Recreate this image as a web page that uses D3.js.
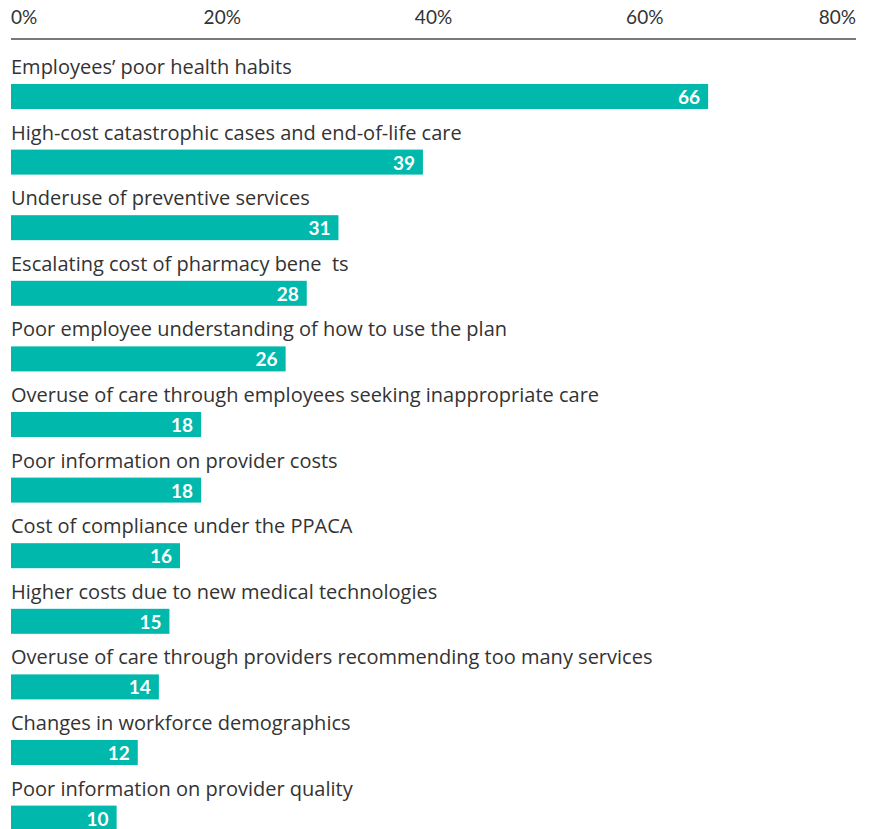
<!DOCTYPE html>
<html>
<head>
<meta charset="utf-8">
<script src="https://cdn.jsdelivr.net/npm/d3@7"></script>
<style>
  html, body { margin: 0; padding: 0; background: #fff; }
  svg { display: block; }
  text { white-space: pre; }
</style>
</head>
<body>
<script>
// Cost drivers, share of respondents (%)
const categories = [
  "Employees\u2019 poor health habits",
  "High-cost catastrophic cases and end-of-life care",
  "Underuse of preventive services",
  "Escalating cost of pharmacy bene  ts",
  "Poor employee understanding of how to use the plan",
  "Overuse of care through employees seeking inappropriate care",
  "Poor information on provider costs",
  "Cost of compliance under the PPACA",
  "Higher costs due to new medical technologies",
  "Overuse of care through providers recommending too many services",
  "Changes in workforce demographics",
  "Poor information on provider quality"
];
const values = [66, 39, 31, 28, 26, 18, 18, 16, 15, 14, 12, 10];
const tickValues = [0, 20, 40, 60, 80];
const tickLabels = ["0%", "20%", "40%", "60%", "80%"];

const W = 874, H = 829;
const svg = d3.select("body").append("svg").attr("width", W).attr("height", H);

const x = d3.scaleLinear().domain([0, 80]).range([11, 856]);
const y = d3.scaleBand().domain(categories).range([84 - 9.5, 84 - 9.5 + 65.6 * 12]).paddingInner(0).paddingOuter(0);
const barH = 25;

// Top axis
const axisG = svg.append("g").attr("transform", "translate(0,39)");
axisG.append("line")
  .attr("x1", x(0)).attr("x2", x(80))
  .attr("stroke", "#4d4d4d").attr("stroke-width", 1.5);
axisG.selectAll("text.tick")
  .data(tickValues)
  .join("text")
  .attr("class", "tick")
  .attr("x", d => x(d))
  .attr("y", -15)
  .attr("text-anchor", (d, i) => i === 0 ? "start" : (i === tickValues.length - 1 ? "end" : "middle"))
  .attr("font-family", "Lato, sans-serif")
  .attr("font-size", 19)
  .attr("fill", "#333")
  .text((d, i) => tickLabels[i]);

// Rows
const rows = svg.selectAll("g.row")
  .data(categories.map((c, i) => ({ c, v: values[i] })))
  .join("g")
  .attr("class", "row")
  .attr("transform", d => `translate(0,${y(d.c) + 9.5})`);

rows.append("text")
  .attr("x", x(0))
  .attr("y", -10)
  .attr("font-family", "'Open Sans', sans-serif")
  .attr("font-size", 20)
  .attr("fill", "#333")
  .text(d => d.c);

rows.append("rect")
  .attr("x", x(0))
  .attr("y", 0)
  .attr("width", d => x(d.v) - x(0))
  .attr("height", barH)
  .attr("fill", "#00b8ab");

rows.append("text")
  .attr("x", d => x(d.v) - 8)
  .attr("y", 20)
  .attr("text-anchor", "end")
  .attr("font-family", "Lato, sans-serif")
  .attr("font-weight", "bold")
  .attr("font-size", 19)
  .attr("fill", "#fff")
  .text(d => d.v);
</script>
</body>
</html>
